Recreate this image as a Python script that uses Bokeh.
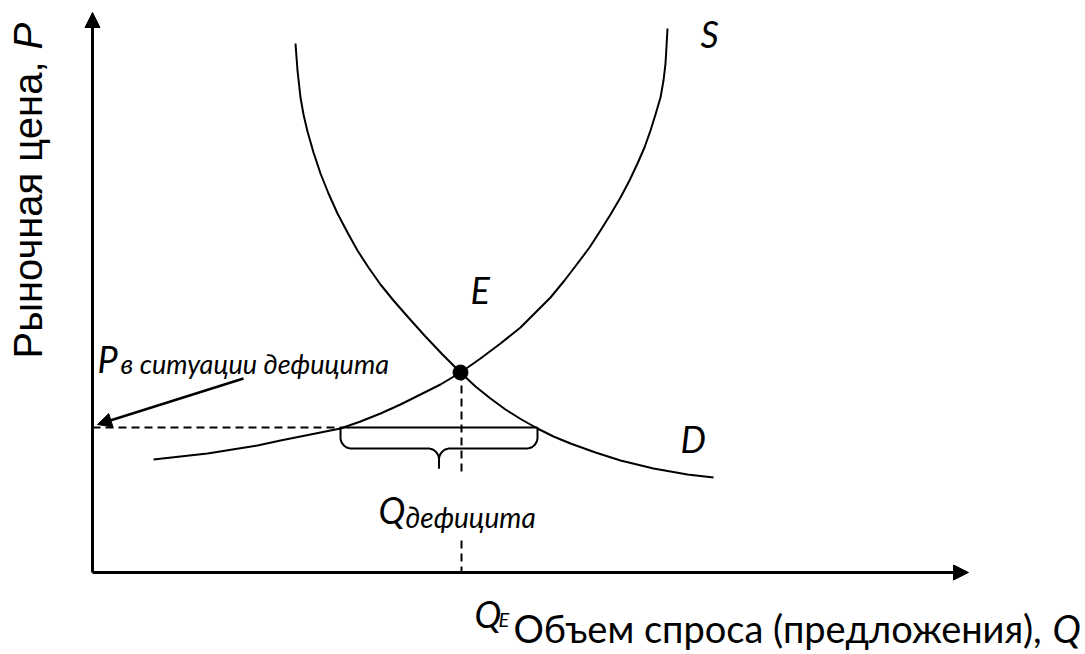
import numpy as np
from bokeh.plotting import figure
from bokeh.models import Range1d, Label, Arrow, NormalHead
from bokeh.embed import file_html
from bokeh.resources import INLINE

# ---- data (quantity Q, price P) ----
demand_q = [203, 205, 208, 211, 215, 221, 228, 236, 245, 255, 265, 276, 288, 301, 315, 332, 350, 368,
            383, 398, 413, 429, 445, 461, 478, 503, 528, 561, 595, 621]
demand_p = [529, 502, 475, 458, 441, 420, 399, 379, 359, 340, 322, 305, 288, 272, 256, 237, 218, 200,
            186, 174, 163, 153, 144, 136, 129, 120, 112, 104, 98, 95]
supply_q = [61, 88, 115, 140, 165, 188, 208, 228, 248, 268, 288, 308, 328, 348, 368, 388, 408, 428,
            443, 458, 472, 485, 497, 508, 518, 528, 537, 545, 552, 558, 563, 568, 571, 573, 574, 575]
supply_p = [113, 116, 119, 123, 127, 132, 136, 140, 144, 151, 159, 168, 178, 188, 200, 214, 229, 245,
            260, 275, 292, 309, 325, 342, 358, 375, 392, 409, 425, 442, 458, 475, 492, 509, 526, 544]
eq_q, eq_p = 369, 200          # equilibrium E
p_deficit = 145                # price in shortage
qs_deficit, qd_deficit = 248, 445   # supplied / demanded quantity at that price
axis_q_max, axis_p_max = 876, 560

BLACK = "black"

p = figure(width=1085, height=654, x_range=Range1d(-92, 993), y_range=Range1d(-82, 572),
           min_border=0, toolbar_location=None, output_backend="svg")
p.xaxis.visible = False
p.yaxis.visible = False
p.xgrid.visible = False
p.ygrid.visible = False
p.outline_line_color = None
p.background_fill_color = "white"
p.border_fill_color = "white"

# axes with arrows
p.add_layout(Arrow(end=NormalHead(size=15, fill_color=BLACK, line_color=BLACK),
                   x_start=0, y_start=0, x_end=0, y_end=axis_p_max,
                   line_width=3, line_color=BLACK))
p.add_layout(Arrow(end=NormalHead(size=15, fill_color=BLACK, line_color=BLACK),
                   x_start=0, y_start=0, x_end=axis_q_max, y_end=0,
                   line_width=3, line_color=BLACK))

# curves
p.line(demand_q, demand_p, line_width=2, color=BLACK, line_join="round")
p.line(supply_q, supply_p, line_width=2, color=BLACK, line_join="round")

# shortage price level
p.line([0, qs_deficit], [p_deficit, p_deficit], line_width=2, color=BLACK, line_dash="8 5")
p.line([qs_deficit, qd_deficit], [p_deficit, p_deficit], line_width=2, color=BLACK)

# vertical dashed at Q_E
p.line([eq_q, eq_q], [eq_p, 97], line_width=2, color=BLACK, line_dash="8 5")
p.line([eq_q, eq_q], [32, 0], line_width=2, color=BLACK, line_dash="8 5")

# brace under the shortage segment
r = 11
drop_mid, drop_tip = 21, 41
L, R = qs_deficit, qd_deficit
C = (L + R) / 2.0
top = p_deficit
mid = top - drop_mid
tip = top - drop_tip
th1 = np.linspace(np.pi, 1.5 * np.pi, 12)
th2 = np.linspace(0.5 * np.pi, 0.0, 12)
left_x = np.concatenate([[L], L + r + r * np.cos(th1), C - r + r * np.cos(th2), [C]])
left_y = np.concatenate([[top], mid + r + r * np.sin(th1), mid - r + r * np.sin(th2), [tip]])
right_x = 2 * C - left_x
p.line(left_x, left_y, line_width=2, color=BLACK, line_join="round")
p.line(right_x, left_y, line_width=2, color=BLACK, line_join="round")

# equilibrium point
p.scatter([eq_q - 1], [eq_p], size=15, color=BLACK)

# arrow to the shortage price
p.add_layout(Arrow(end=NormalHead(size=14, fill_color=BLACK, line_color=BLACK),
                   x_start=151, y_start=194, x_end=5, y_end=148,
                   line_width=2.5, line_color=BLACK))

def lab(x, y, text, size, font="Lato", style="italic", angle=0.0):
    p.add_layout(Label(x=x, y=y, text=text, text_font=font, text_font_style=style,
                       text_font_size=size, text_color=BLACK, text_align="left",
                       text_baseline="alphabetic", angle=angle))

lab(608, 539, "S", "36px")
lab(378, 283, "E", "36px")
lab(588, 134, "D", "36px")
lab(5, 214, "P", "36px")
lab(28, 209, "в ситуации дефицита", "27px")
lab(286, 63, "Q", "36px")
lab(313, 56, "дефицита", "28px")
lab(382, -41, "Q", "36px")
lab(406, -46, "E", "20px")
lab(421, -55, "Объем спроса (предложения),", "38px", style="normal")
lab(960, -55, "Q", "38px")
lab(-65, 214, "Рыночная цена,", "40px", font="Liberation Sans", style="normal", angle=np.pi / 2)
lab(-65, 523, "P", "40px", font="Liberation Sans", angle=np.pi / 2)

open("out.html", "w").write(file_html(p, INLINE))
